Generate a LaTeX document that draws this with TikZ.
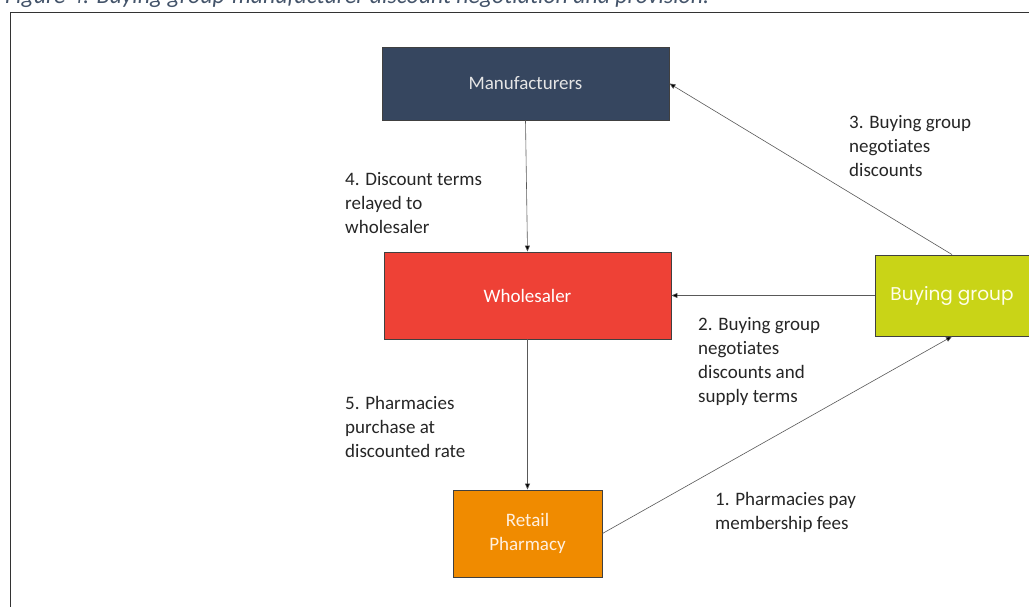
\documentclass[tikz,border=0pt]{standalone}
\usepackage{fontspec}
\setmainfont{Carlito}[Ligatures=NoCommon]
\newfontfamily\gothic{Poppins}
\usetikzlibrary{arrows.meta}
\definecolor{mfill}{HTML}{36465F}
\definecolor{wfill}{HTML}{EE4136}
\definecolor{bfill}{HTML}{C9D417}
\definecolor{pfill}{HTML}{F08B00}
\definecolor{capcol}{HTML}{44546A}
\definecolor{labcol}{HTML}{262626}
\tikzset{
  box/.style={draw=black!75, line width=0.9pt, inner sep=0pt, align=center,
    font=\fontsize{19}{24}\selectfont},
  conn/.style={draw=black!65, line width=0.6pt, -{Triangle[length=6pt,width=5pt,fill=black]}},
  lab/.style={anchor=north west, inner sep=0pt, align=left, text=labcol,
    font=\fontsize{19}{24}\selectfont}
}
\begin{document}
\begin{tikzpicture}[x=1pt,y=-1pt]
\useasboundingbox (0,0) rectangle (1029,606);
\clip (0,0) rectangle (1029,606);
\fill[white] (0,0) rectangle (1029,606);
% caption (cut off at top, as in the source)
\node[anchor=base west, inner sep=0pt, text=capcol, font=\itshape\fontsize{23.8}{26}\selectfont] (cap) at (5,3.3) {Figure 4: Buying group-manufacturer discount negotiation and provision.};
% frame
\draw[black!80, line width=1.4pt] (10.5,640) -- (10.5,12.5) -- (1060,12.5);
% boxes
\node[box, fill=mfill, text=black!10, minimum width=287pt, minimum height=73pt] (m) at (525.5,83.5) {Manufacturers};
\node[box, fill=wfill, text=white, minimum width=287pt, minimum height=87pt] (w) at (527.5,295.5) {Wholesaler};
\node[box, fill=bfill, text=white!92!yellow, minimum width=154pt, minimum height=81pt, font=\gothic\fontsize{18.5}{22}\selectfont] (b) at (952,295.5) {Buying group};
\node[box, fill=pfill, text=white!88!orange, minimum width=149pt, minimum height=87pt] (p) at (527.5,533.5) {Retail\\Pharmacy};
% connectors
\draw[conn] (m.south) -- (w.north);
\draw[conn] (b.west) -- (w.east);
\draw[conn] (b.north) -- (m.east);
\draw[conn] (p.east) -- (b.south);
\draw[conn] (w.south) -- (p.north);
% labels
\node[lab] (l4) at (345,172) {4. Discount terms\\relayed to\\wholesaler};
\node[lab] (l3) at (849,115) {3. Buying group\\negotiates\\discounts};
\node[lab] (l2) at (698,317) {2. Buying group\\negotiates\\discounts and\\supply terms};
\node[lab] (l5) at (345,396) {5. Pharmacies\\purchase at\\discounted rate};
\node[lab] (l1) at (715,492) {1. Pharmacies pay\\membership fees};
\end{tikzpicture}
\end{document}
